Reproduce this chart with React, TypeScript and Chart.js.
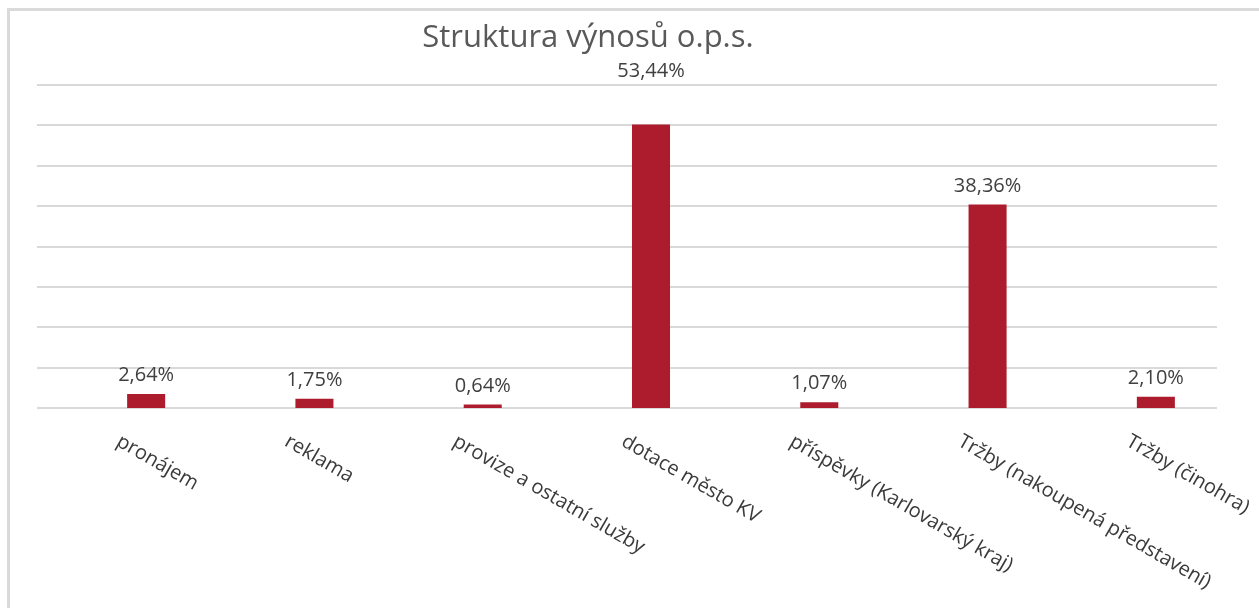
import React, { useEffect, useRef } from "react";
import { Chart, registerables } from "chart.js";

Chart.register(...registerables);

const chartTitle = "Struktura výnosů o.p.s.";
const categories = [
  "pronájem",
  "reklama",
  "provize a ostatní služby",
  "dotace město KV",
  "příspěvky (Karlovarský kraj)",
  "Tržby (nakoupená představení)",
  "Tržby (činohra)",
];
const shares = [2.64, 1.75, 0.64, 53.44, 1.07, 38.36, 2.1];
const valueLabels = ["2,64%", "1,75%", "0,64%", "53,44%", "1,07%", "38,36%", "2,10%"];
const yMax = 60.9;
const gridSteps = 8;

const BAR_COLOR = "#AD1C2C";
const GRID_COLOR = "#d9d9d9";
const FONT = '"Open Sans", "Liberation Sans", sans-serif';

const overlayPlugin = {
  id: "overlay",
  beforeDatasetsDraw(chart: any) {
    const ctx = chart.ctx;
    const y = chart.scales.y;
    const area = chart.chartArea;
    ctx.save();
    ctx.strokeStyle = GRID_COLOR;
    ctx.lineWidth = 2;
    for (let i = 0; i <= gridSteps; i++) {
      const py = Math.round(y.getPixelForValue((yMax * i) / gridSteps));
      ctx.beginPath();
      ctx.moveTo(area.left - 25, py);
      ctx.lineTo(area.right - 23, py);
      ctx.stroke();
    }
    ctx.restore();
  },
  afterDatasetsDraw(chart: any) {
    const ctx = chart.ctx;
    const area = chart.chartArea;
    const meta = chart.getDatasetMeta(0);
    const maxIdx = shares.indexOf(Math.max(...shares));
    ctx.save();
    // value labels
    ctx.font = `20px ${FONT}`;
    ctx.fillStyle = "#404040";
    ctx.textAlign = "center";
    ctx.textBaseline = "alphabetic";
    meta.data.forEach((bar: any, i: number) => {
      const by = i === maxIdx ? area.top - 8 : bar.y - 13;
      ctx.fillText(valueLabels[i], bar.x, by);
    });
    // category labels rotated clockwise
    ctx.font = `20px ${FONT}`;
    ctx.fillStyle = "#3a3a3a";
    ctx.textAlign = "left";
    ctx.textBaseline = "middle";
    meta.data.forEach((bar: any, i: number) => {
      ctx.save();
      ctx.translate(bar.x - 28, area.bottom + 32);
      ctx.rotate((30 * Math.PI) / 180);
      ctx.fillText(categories[i], 0, 0);
      ctx.restore();
    });
    // title
    ctx.font = `31px ${FONT}`;
    ctx.fillStyle = "#595959";
    ctx.textAlign = "center";
    ctx.textBaseline = "alphabetic";
    ctx.fillText(chartTitle, 588, 47);
    ctx.restore();
  },
};

export default function App() {
  const canvasRef = useRef<HTMLCanvasElement | null>(null);

  useEffect(() => {
    document.body.style.margin = "0";
    const canvas = canvasRef.current;
    if (!canvas) return;
    const chart = new Chart(canvas, {
      type: "bar",
      data: {
        labels: categories,
        datasets: [
          {
            data: shares,
            backgroundColor: BAR_COLOR,
            borderWidth: 0,
            categoryPercentage: 1,
            barPercentage: 0.226,
          },
        ],
      },
      options: {
        responsive: false,
        animation: false,
        devicePixelRatio: 1,
        layout: { padding: { left: 62, right: 19, top: 85, bottom: 200 } },
        plugins: {
          legend: { display: false },
          title: { display: false },
          tooltip: { enabled: false },
        },
        scales: {
          x: {
            display: false,
            offset: true,
            grid: { display: false },
          },
          y: {
            display: false,
            min: 0,
            max: yMax,
          },
        },
      },
      plugins: [overlayPlugin],
    });
    if ((document as any).fonts && (document as any).fonts.load) {
      (document as any).fonts.load(`20px "Open Sans"`).then(() => chart.draw()).catch(() => {});
    }
    return () => chart.destroy();
  }, []);

  return (
    <div style={{ position: "relative", width: 1259, height: 608, overflow: "hidden", background: "#fff" }}>
      <div
        style={{
          position: "absolute",
          left: 7,
          top: 8,
          width: 1400,
          height: 800,
          border: "3px solid #dadada",
          boxSizing: "border-box",
        }}
      />
      <canvas
        ref={canvasRef}
        width={1259}
        height={608}
        style={{ position: "absolute", left: 0, top: 0, width: 1259, height: 608 }}
      />
    </div>
  );
}
